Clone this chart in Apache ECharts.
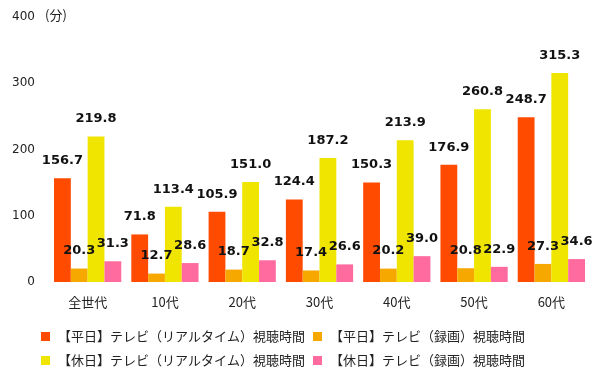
<!DOCTYPE html>
<html><head><meta charset="utf-8">
<script src="https://cdn.jsdelivr.net/npm/echarts@6/dist/echarts.min.js"></script>
<style>html,body{margin:0;padding:0;background:#fff}#c{width:605px;height:378px}</style>
</head><body><div id="c"></div>
<script>
const categories = ['全世代','10代','20代','30代','40代','50代','60代'];
const seriesNames = ['【平日】テレビ（リアルタイム）視聴時間','【平日】テレビ（録画）視聴時間','【休日】テレビ（リアルタイム）視聴時間','【休日】テレビ（録画）視聴時間'];
const weekdayLive = [156.7, 71.8, 105.9, 124.4, 150.3, 176.9, 248.7];
const weekdayRec = [20.3, 12.7, 18.7, 17.4, 20.2, 20.8, 27.3];
const holidayLive = [219.8, 113.4, 151.0, 187.2, 213.9, 260.8, 315.3];
const holidayRec = [31.3, 28.6, 32.8, 26.6, 39.0, 22.9, 34.6];
const yTicks = [0, 100, 200, 300, 400];
const unitLabel = '(分)';
const colors = ['#FF4B00','#F6A800','#F0E500','#FF6B9F'];

const chart = echarts.init(document.getElementById('c'));
const data = [weekdayLive, weekdayRec, holidayLive, holidayRec];
const legendText = {fontSize: 13, color: '#222', fontFamily: 'Noto Sans CJK JP', padding: [0, 0, 0, 3]};
chart.setOption({
  animation: false,
  textStyle: {fontFamily: 'DejaVu Sans'},
  grid: {left: 49, right: 15, top: 17, bottom: 96},
  graphic: [{type: 'text', left: 45, top: 9, style: {text: unitLabel, fontSize: 13, fill: '#222', fontFamily: 'Noto Sans CJK JP'}}],
  legend: [
    {data: [seriesNames[0], seriesNames[1]], left: 36, top: 325, itemWidth: 9, itemHeight: 9, itemGap: 8, icon: 'rect', textStyle: legendText},
    {data: [seriesNames[2], seriesNames[3]], left: 36, top: 349, itemWidth: 9, itemHeight: 9, itemGap: 8, icon: 'rect', textStyle: legendText}
  ],
  xAxis: {
    type: 'category', data: categories,
    axisLine: {show: false}, axisTick: {show: false},
    axisLabel: {margin: 14, fontSize: 13, color: '#222', fontFamily: 'Noto Sans CJK JP'}
  },
  yAxis: {
    type: 'value', min: yTicks[0], max: yTicks[yTicks.length-1], interval: 100,
    splitLine: {show: false}, axisLine: {show: false}, axisTick: {show: false},
    axisLabel: {margin: 14, fontSize: 12, color: '#222'}
  },
  series: data.map((d, i) => ({
    name: seriesNames[i], type: 'bar', data: d,
    barGap: '0%', barCategoryGap: '13%',
    itemStyle: {color: colors[i]},
    label: {show: true, position: 'top', distance: 11, fontSize: 13, fontWeight: 'bold', color: '#111',
      formatter: p => p.value.toFixed(1)}
  }))
});
</script></body></html>
